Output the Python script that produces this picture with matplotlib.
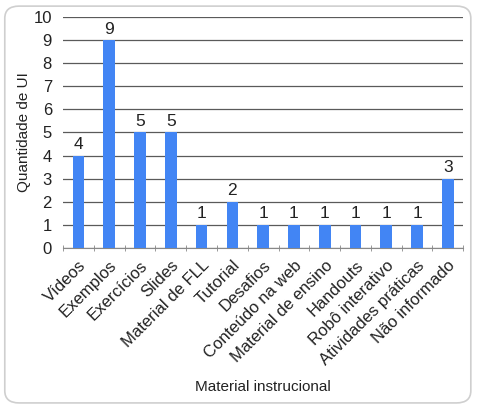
import matplotlib.pyplot as plt
from matplotlib.patches import FancyBboxPatch

categories = ["Vídeos", "Exemplos", "Exercícios", "Slides", "Material de FLL",
              "Tutorial", "Desafios", "Conteúdo na web", "Material de ensino",
              "Handouts", "Robô interativo", "Atividades práticas", "Não informado"]
counts = [4, 9, 5, 5, 1, 2, 1, 1, 1, 1, 1, 1, 3]

plt.rcParams["font.family"] = ["Liberation Sans", "DejaVu Sans"]
plt.rcParams["text.color"] = "#222222"

fig = plt.figure(figsize=(4.78, 4.07), dpi=100)
border = FancyBboxPatch((0.01, 0.01), 0.975, 0.975, boxstyle="round,pad=0,rounding_size=0.03",
                        transform=fig.transFigure, facecolor="white", edgecolor="#cfcfcf",
                        linewidth=1.2, zorder=-5)
fig.add_artist(border)

ax = fig.add_axes([0.132, 0.391, 0.837, 0.567])
x = range(len(categories))
bars = ax.bar(x, counts, width=0.38, color="#4285f4", zorder=3)
for xi, v in zip(x, counts):
    ax.text(xi, v + 0.15, str(v), ha="center", va="bottom", fontsize=12.5)

ax.set_xlim(-0.5, len(categories) - 0.5)
ax.set_ylim(0, 10)
ax.set_yticks(range(0, 11))
ax.yaxis.grid(True, color="#5a5a5a", linewidth=0.9, zorder=0)
ax.set_facecolor("none")
for side in ["top", "right", "left"]:
    ax.spines[side].set_visible(False)
ax.spines["bottom"].set_color("#888888")
ax.tick_params(axis="y", length=0, labelsize=12, pad=8, labelcolor="#222222")

ax.set_xticks(list(x))
ax.set_xticklabels(categories, rotation=45, ha="right", rotation_mode="anchor", fontsize=12)
ax.tick_params(axis="x", length=0, pad=7, labelcolor="#222222")
ax.set_xticks([i - 0.5 for i in range(len(categories) + 1)], minor=True)
ax.tick_params(axis="x", which="minor", length=4, direction="inout", color="#888888")

ax.set_ylabel("Quantidade de UI", fontsize=11, labelpad=2, color="#222222")
fig.text(0.55, 0.04, "Material instrucional", ha="center", fontsize=11)

fig.savefig("out.png", dpi=100)
